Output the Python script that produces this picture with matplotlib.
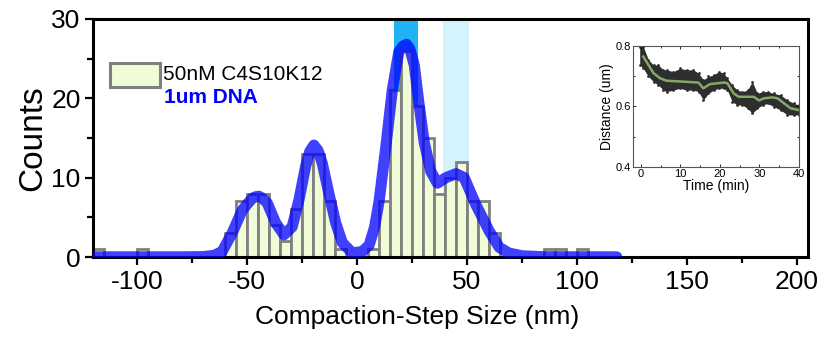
import numpy as np
import matplotlib
matplotlib.use('Agg')
import matplotlib.pyplot as plt
from matplotlib.patches import Rectangle
from matplotlib.ticker import MultipleLocator

plt.rcParams['font.family'] = ['Liberation Sans', 'DejaVu Sans']
plt.rcParams['axes.unicode_minus'] = False

# histogram of compaction step sizes, 5 nm bins (left edges)
bin_left = [-120, -115, -110, -105, -100, -95, -90, -85, -80, -75, -70, -65,
            -60, -55, -50, -45, -40, -35, -30, -25, -20, -15, -10, -5,
            0, 5, 10, 15, 20, 25, 30, 35, 40, 45, 50, 55,
            60, 65, 70, 75, 80, 85, 90, 95, 100]
counts = [1, 0, 0, 0, 1, 0, 0, 0, 0, 0, 0, 0,
          3, 7, 8, 8, 4, 2, 6, 13, 13, 7, 1, 0,
          0, 1, 7, 21, 26, 19, 15, 8, 10, 12, 7, 7,
          3, 0, 0, 0, 0, 1, 1, 0, 1]
bin_width = 5

# multi-peak fit curve
fit_x = [-120, -80, -70, -65, -61.3, -56.8, -52.2, -47.7, -46, -44.6, -43, -40.8, -37,
         -33.2, -29.5, -26.4, -23.4, -21.5, -19.6, -17.7, -15.8, -12.8, -9.7, -6.7,
         -2.1, 2.4, 5.5, 8, 10, 13, 16, 19, 21, 22.5, 24, 26, 28.2, 30.5, 33.5,
         36.5, 40.4, 45, 48.7, 54, 60, 64.7, 69, 75, 85, 118]
fit_y = [0.02, 0.02, 0.05, 0.2, 0.7, 3.0, 5.9, 7.4, 7.6, 7.65, 7.4, 6.8, 4.3,
         2.8, 3.8, 7.2, 11.4, 13.3, 14.1, 13.4, 11.8, 8.0, 4.3, 1.8,
         0.5, 0.7, 1.5, 3.8, 7.0, 13.7, 21.0, 25.9, 26.6, 26.8, 26.2, 24.2, 19.2, 14.5, 10.8,
         9.3, 10.0, 10.5, 10.0, 6.6, 3.3, 1.2, 0.5, 0.15, 0.03, 0.02]

# highlighted step ranges
span_dark = (16.6, 27.8)
span_light = (39.2, 51.0)

# inset: distance vs time trace
trace_t = [-0.3, 0.6, 1.9, 3.2, 4.4, 5.7, 6.5, 8.2, 9.9, 11.6, 13.3, 14.6, 15.8,
           17.1, 18.4, 19.7, 21.0, 21.9, 23.1, 24.4, 25.7, 27.0, 28.2, 29.5,
           30.8, 32.1, 33.7, 35.4, 37.1, 38.8, 40.0]
trace_hi = [0.798, 0.798, 0.754, 0.737, 0.737, 0.721, 0.721, 0.715, 0.726, 0.721,
            0.721, 0.710, 0.688, 0.699, 0.704, 0.715, 0.710, 0.693, 0.671, 0.654,
            0.649, 0.654, 0.682, 0.643, 0.649, 0.649, 0.643, 0.638, 0.621, 0.610, 0.605]
trace_lo = [0.737, 0.726, 0.699, 0.682, 0.671, 0.654, 0.649, 0.654, 0.660, 0.654,
            0.654, 0.649, 0.621, 0.643, 0.654, 0.660, 0.660, 0.654, 0.616, 0.605,
            0.605, 0.594, 0.577, 0.594, 0.605, 0.610, 0.599, 0.588, 0.572, 0.572, 0.572]
smooth_t = [0.6, 3.2, 4.9, 6.5, 10.8, 14.6, 15.8, 17.5, 21.0, 21.9, 23.5, 24.8,
            27.3, 28.6, 29.9, 31.2, 33.3, 34.6, 36.3, 37.9, 40.0]
smooth_d = [0.765, 0.710, 0.693, 0.685, 0.682, 0.679, 0.660, 0.674, 0.679, 0.677,
            0.643, 0.632, 0.632, 0.632, 0.620, 0.627, 0.630, 0.627, 0.610, 0.594, 0.588]

fig = plt.figure(figsize=(8.21, 3.44), dpi=100)
ax = fig.add_axes([0.1133, 0.2529, 0.871, 0.692])

ax.axvspan(*span_dark, color='#1fb3f6', lw=0, zorder=0)
ax.axvspan(*span_light, color='#d3f4fd', lw=0, zorder=0)

ax.bar(bin_left, counts, width=bin_width, align='edge', color='#f0fcd8',
       edgecolor='#808080', linewidth=2.0, zorder=2)
ax.plot(fit_x, fit_y, color='blue', alpha=0.75, lw=8, zorder=3,
        solid_joinstyle='round', solid_capstyle='round')

ax.set_xlim(-120, 205)
ax.set_ylim(0, 30)
ax.xaxis.set_major_locator(MultipleLocator(50))
ax.xaxis.set_minor_locator(MultipleLocator(25))
ax.yaxis.set_major_locator(MultipleLocator(10))
ax.yaxis.set_minor_locator(MultipleLocator(5))
ax.tick_params(which='major', direction='out', length=6, width=1.6, labelsize=19, pad=3)
ax.tick_params(which='minor', direction='out', length=4, width=1.6)
for s in ax.spines.values():
    s.set_linewidth(2.2)

ax.set_xlabel('Compaction-Step Size (nm)', fontsize=19, labelpad=3)
ax.xaxis.set_label_coords(0.453, -0.2)
ax.set_ylabel('Counts', fontsize=24, labelpad=2)

# legend
ax.add_patch(Rectangle((0.024, 0.714), 0.07, 0.101, transform=ax.transAxes,
                       facecolor='#f0fcd8', edgecolor='#808080', lw=2.2, zorder=5))
ax.text(0.098, 0.765, '50nM C4S10K12', transform=ax.transAxes, fontsize=15,
        va='center', ha='left', zorder=5)
ax.text(0.099, 0.672, '1um DNA', transform=ax.transAxes, fontsize=15,
        fontweight='bold', color='blue', va='center', ha='left', zorder=5)

# inset
ins = fig.add_axes([0.771, 0.5145, 0.202, 0.352])
ins.fill_between(trace_t, trace_lo, trace_hi, color='#2e2e2e', lw=0)
ins.scatter(trace_t, trace_hi, s=4, color='#2e2e2e', lw=0)
ins.scatter(trace_t, trace_lo, s=4, color='#2e2e2e', lw=0)
ins.plot(smooth_t, smooth_d, color='#86a866', lw=1.8)
ins.set_xlim(-2, 40)
ins.set_ylim(0.4, 0.8)
ins.xaxis.set_major_locator(MultipleLocator(10))
ins.xaxis.set_minor_locator(MultipleLocator(5))
ins.yaxis.set_major_locator(MultipleLocator(0.2))
ins.yaxis.set_minor_locator(MultipleLocator(0.1))
ins.tick_params(which='both', direction='in', top=True, right=True,
                labelsize=8, width=0.6, pad=1.5)
ins.tick_params(which='major', length=2.5)
ins.tick_params(which='minor', length=1.5)
for s in ins.spines.values():
    s.set_linewidth(0.8)
    s.set_color('#555555')
ins.set_xlabel('Time (min)', fontsize=10, labelpad=0)
ins.set_ylabel('Distance (um)', fontsize=10, labelpad=1)

fig.savefig('out.png', dpi=100)
